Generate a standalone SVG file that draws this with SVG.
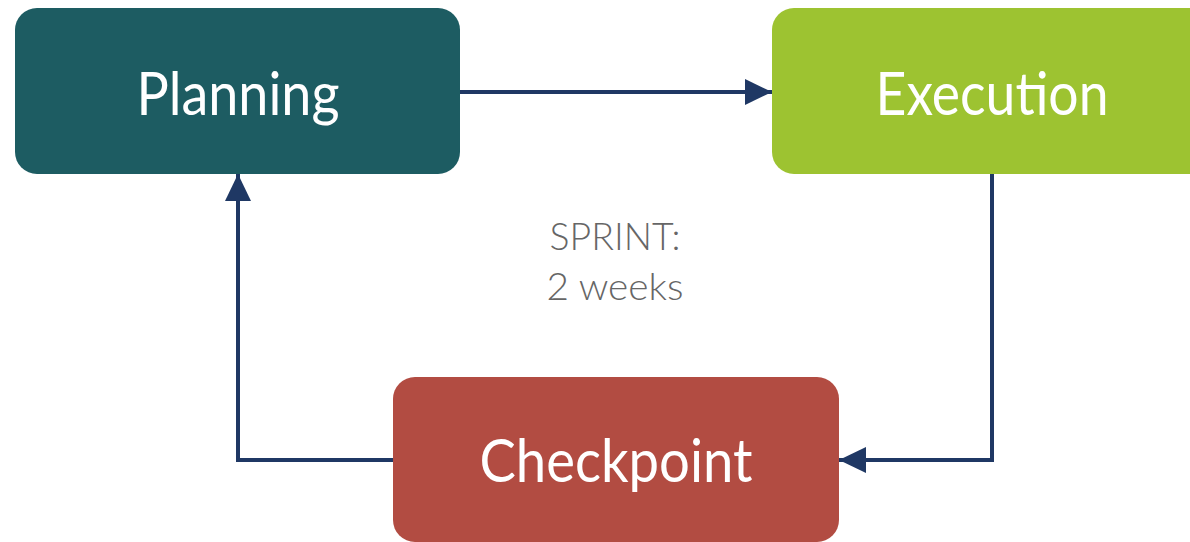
<svg xmlns="http://www.w3.org/2000/svg" width="1190" height="542" viewBox="0 0 1190 542">
<style>
.lbl{font-family:"Lato","Liberation Sans",sans-serif;font-size:60px;fill:#fff;text-anchor:middle}
.note{font-family:"Lato","Liberation Sans",sans-serif;font-weight:300;font-size:38px;fill:#666;text-anchor:middle}
.conn{fill:none;stroke:#1F3864;stroke-width:4;stroke-linejoin:miter}
</style>
<defs>
<marker id="ah" viewBox="0 0 27 26" refX="27" refY="13" markerWidth="27" markerHeight="26" markerUnits="userSpaceOnUse" orient="auto">
<path d="M0,0 L27,13 L0,26 Z" fill="#1F3864"/>
</marker>
</defs>
<rect width="1190" height="542" fill="#fff"/>
<g id="planning">
<rect x="15" y="8" width="445" height="166" rx="22" fill="#1D5C62"/>
<text class="lbl" x="238" y="115" textLength="203" lengthAdjust="spacingAndGlyphs">Planning</text>
</g>
<g id="execution">
<rect x="772" y="8" width="445" height="166" rx="22" fill="#9DC331"/>
<text class="lbl" x="992" y="115" textLength="233" lengthAdjust="spacingAndGlyphs">Execution</text>
</g>
<g id="checkpoint">
<rect x="393" y="377" width="446" height="165" rx="22" fill="#B24C42"/>
<text class="lbl" x="616" y="482" textLength="273" lengthAdjust="spacingAndGlyphs">Checkpoint</text>
</g>
<g id="sprint-note">
<text class="note" x="615" y="250" textLength="131" lengthAdjust="spacingAndGlyphs">SPRINT:</text>
<text class="note" x="615" y="300" textLength="137" lengthAdjust="spacingAndGlyphs">2 weeks</text>
</g>
<g id="connectors">
<path class="conn" d="M460,92 L772,92" marker-end="url(#ah)"/>
<path class="conn" d="M992,174 L992,460 L839,460" marker-end="url(#ah)"/>
<path class="conn" d="M393,460 L238,460 L238,174" marker-end="url(#ah)"/>
</g>
</svg>
